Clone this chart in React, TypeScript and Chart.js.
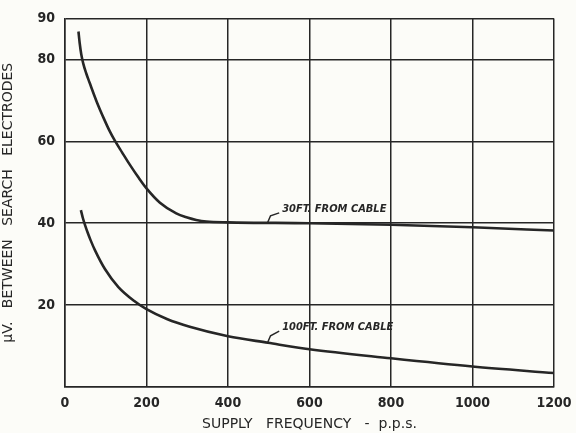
import React, { useEffect, useRef } from "react";
import { Chart, registerables } from "chart.js";

Chart.register(...registerables);

const freq30 = [33, 36, 40, 45, 52, 60, 78, 96, 110, 122, 140, 159, 180, 200, 233, 273, 300, 322, 347, 400, 600, 800, 1000, 1200];
const uv30 = [86.8, 84.0, 81.2, 78.9, 76.6, 74.4, 69.6, 65.4, 62.4, 60.2, 57.3, 54.3, 51.2, 48.5, 45.0, 42.4, 41.4, 40.8, 40.4, 40.2, 40.0, 39.6, 39.0, 38.2];

const freq100 = [39, 44, 49, 56, 63, 74, 98, 131, 170, 200, 250, 306, 400, 498, 600, 800, 1000, 1200];
const uv100 = [43.2, 41.2, 39.6, 37.6, 35.8, 33.3, 28.8, 24.4, 21.0, 19.0, 16.6, 14.7, 12.4, 10.8, 9.2, 7.0, 5.0, 3.4];

const yTicks = [0, 20, 40, 60, 80, 90];
const xTicks = [0, 200, 400, 600, 800, 1000, 1200];

const label30 = "30FT. FROM CABLE";
const label100 = "100FT. FROM CABLE";
// annotation anchors (data space): pointer target on curve, text start
const ann30 = { px: 497, py: 40.1, tx: 533, ty: 43.5, text: label30 };
const ann100 = { px: 497, py: 10.8, tx: 533, ty: 14.6, text: label100 };

const INK = "#262626";
const FONT = "'DejaVu Sans Condensed', 'Liberation Sans Narrow', 'DejaVu Sans', sans-serif";
const TFONT = "'DejaVu Sans', sans-serif";

export default function App() {
  const ref = useRef<HTMLCanvasElement | null>(null);
  useEffect(() => {
    document.body.style.margin = "0";
    const canvas = ref.current!;
    const bg = {
      id: "bg",
      beforeDraw(chart: any) {
        const c = chart.ctx;
        c.save();
        c.fillStyle = "#fcfcf8";
        c.fillRect(0, 0, chart.width, chart.height);
        c.restore();
      },
    };
    const annot = {
      id: "annot",
      afterDatasetsDraw(chart: any) {
        const c = chart.ctx;
        const xs = chart.scales.x;
        const ys = chart.scales.y;
        c.save();
        for (const a of [ann30, ann100]) {
          const x0 = xs.getPixelForValue(a.px);
          const y0 = ys.getPixelForValue(a.py);
          const x1 = xs.getPixelForValue(a.tx);
          const y1 = ys.getPixelForValue(a.ty);
          c.strokeStyle = INK;
          c.lineWidth = 1.5;
          c.beginPath();
          c.moveTo(x0, y0);
          c.lineTo(x0 + 3, y0 - 7);
          c.lineTo(x1 - 3, y1 + 4);
          c.stroke();
          c.fillStyle = INK;
          c.font = "italic bold 11px " + FONT;
          c.textBaseline = "middle";
          c.textAlign = "left";
          c.fillText(a.text, x1, y1);
        }
        c.restore();
      },
    };
    const chart = new Chart(canvas, {
      type: "scatter",
      data: {
        datasets: [
          {
            label: label30,
            data: freq30.map((x, i) => ({ x, y: uv30[i] })),
            showLine: true,
            borderColor: INK,
            borderWidth: 2.6,
            pointRadius: 0,
            cubicInterpolationMode: "monotone",
          },
          {
            label: label100,
            data: freq100.map((x, i) => ({ x, y: uv100[i] })),
            showLine: true,
            borderColor: INK,
            borderWidth: 2.6,
            pointRadius: 0,
            cubicInterpolationMode: "monotone",
          },
        ],
      },
      options: {
        animation: false,
        responsive: false,
        layout: { padding: { top: 16, right: 22, left: 0, bottom: 0 } },
        plugins: { legend: { display: false }, tooltip: { enabled: false } },
        scales: {
          x: {
            type: "linear",
            min: 0,
            max: 1200,
            afterBuildTicks: (s: any) => {
              s.ticks = xTicks.map((v) => ({ value: v }));
            },
            afterFit: (s: any) => {
              s.height = 46;
              s.paddingRight = 0;
              s.paddingLeft = 0;
            },
            grid: { color: INK, lineWidth: 1.5, drawTicks: false },
            border: { color: INK, width: 1.5 },
            ticks: {
              color: INK,
              padding: 8,
              maxRotation: 0,
              callback: (v: any) => String(v),
              font: { family: FONT, size: 14, weight: "bold" },
            },
            title: {
              display: true,
              text: "SUPPLY   FREQUENCY   -  p.p.s.",
              color: INK,
              padding: { top: 1, bottom: 0 },
              font: { family: TFONT, size: 14 },
            },
          },
          y: {
            type: "linear",
            min: 0,
            max: 90,
            afterBuildTicks: (s: any) => {
              s.ticks = yTicks.map((v) => ({ value: v }));
            },
            afterFit: (s: any) => {
              s.width = 65;
            },
            grid: { color: INK, lineWidth: 1.5, drawTicks: false },
            border: { color: INK, width: 1.5 },
            ticks: {
              color: INK,
              padding: 10,
              callback: (v: any) => (v === 0 ? "" : String(v)),
              font: { family: FONT, size: 14, weight: "bold" },
            },
            title: {
              display: true,
              text: "μV.   BETWEEN   SEARCH   ELECTRODES",
              color: INK,
              padding: { top: 0, bottom: 2 },
              font: { family: TFONT, size: 14 },
            },
          },
        },
      },
      plugins: [bg, annot],
    } as any);
    return () => chart.destroy();
  }, []);
  return (
    <div style={{ width: 576, height: 433 }}>
      <canvas ref={ref} width={576} height={433} style={{ display: "block" }} />
    </div>
  );
}
